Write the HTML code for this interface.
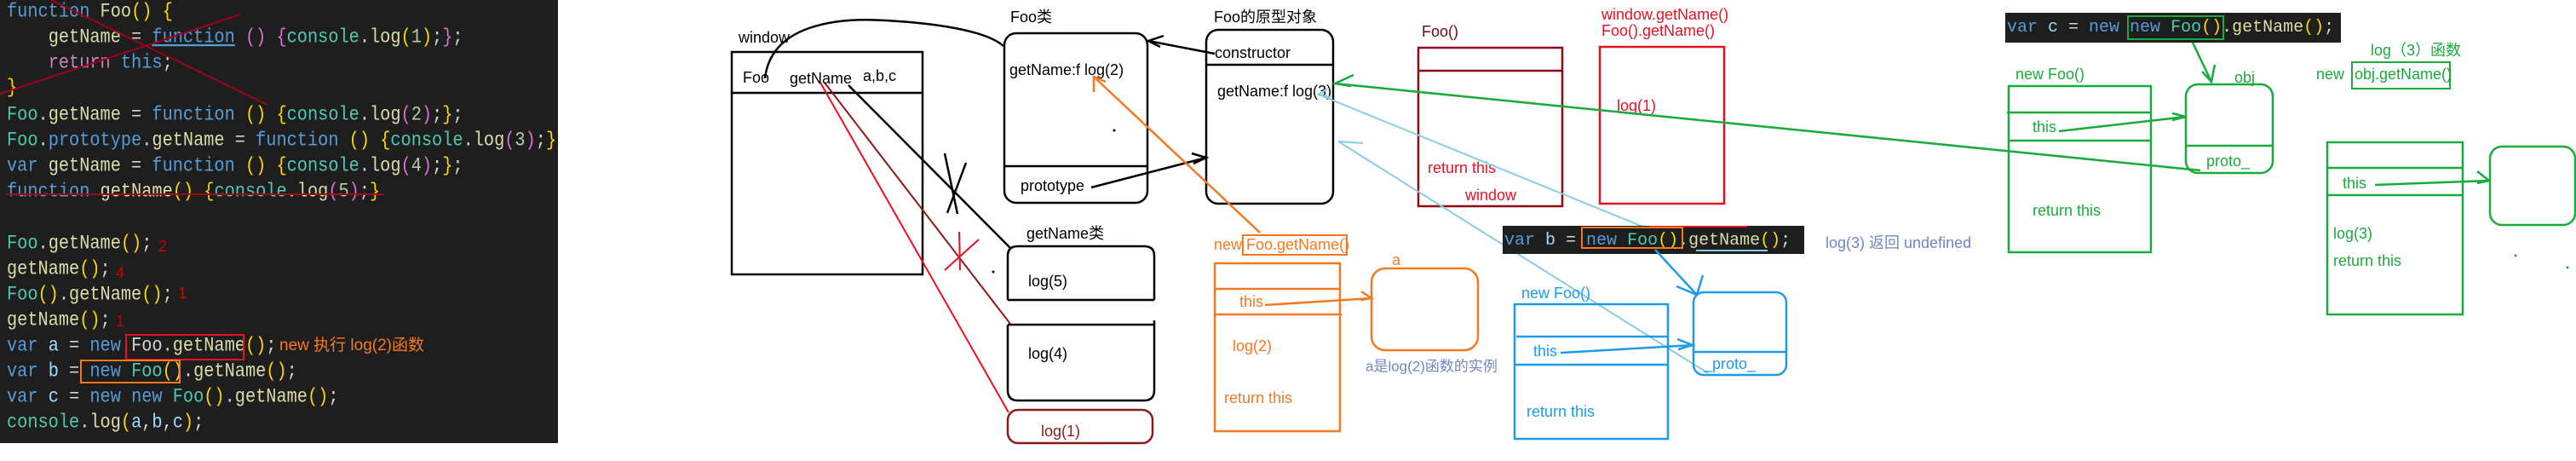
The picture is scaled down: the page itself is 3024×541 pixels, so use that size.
<!DOCTYPE html>
<html><head><meta charset="utf-8">
<style>
html,body{margin:0;padding:0;background:#fff;}
body{width:3024px;height:541px;position:relative;overflow:hidden;}
#code{position:absolute;left:0;top:0;width:655px;height:520px;background:#1e1e1e;overflow:hidden;}
.ln{position:absolute;left:8px;font-family:"Liberation Mono",monospace;font-size:20.3px;white-space:pre;line-height:30px;color:#d4d4d4;transform:scaleY(1.15);transform-origin:0 50%;}
.k{color:#569cd6}.t{color:#4ec9b0}.f{color:#dcdcaa}.y{color:#ffd700}.p{color:#da70d6}.n{color:#b5cea8}.r{color:#c586c0}.v{color:#9cdcfe}.w{color:#d4d4d4}
svg{position:absolute;left:0;top:0;}
svg text{font-family:"Liberation Sans","Noto Sans CJK SC",sans-serif;font-size:18px;dominant-baseline:middle;}
</style></head><body>
<div id="code">
<div class="ln" style="top:0px"><span class="k">function</span> <span class="f">Foo</span><span class="y">()</span> <span class="y">{</span></div>
<div class="ln" style="top:30px">    <span class="f">getName</span> = <span class="k" style="text-decoration:underline">function</span> <span class="p">()</span> <span class="p">{</span><span class="t">console</span>.<span class="f">log</span><span class="y">(</span><span class="n">1</span><span class="y">)</span>;<span class="p">}</span>;</div>
<div class="ln" style="top:60px">    <span class="r">return</span> <span class="k">this</span>;</div>
<div class="ln" style="top:89px"><span class="y">}</span></div>
<div class="ln" style="top:121px"><span class="t">Foo</span>.<span class="f">getName</span> = <span class="k">function</span> <span class="y">()</span> <span class="y">{</span><span class="t">console</span>.<span class="f">log</span><span class="p">(</span><span class="n">2</span><span class="p">)</span>;<span class="y">}</span>;</div>
<div class="ln" style="top:151px"><span class="t">Foo</span>.<span class="k">prototype</span>.<span class="f">getName</span> = <span class="k">function</span> <span class="y">()</span> <span class="y">{</span><span class="t">console</span>.<span class="f">log</span><span class="p">(</span><span class="n">3</span><span class="p">)</span>;<span class="y">}</span>;</div>
<div class="ln" style="top:181px"><span class="k">var</span> <span class="f">getName</span> = <span class="k">function</span> <span class="y">()</span> <span class="y">{</span><span class="t">console</span>.<span class="f">log</span><span class="p">(</span><span class="n">4</span><span class="p">)</span>;<span class="y">}</span>;</div>
<div class="ln" style="top:211px"><span class="k">function</span> <span class="f">getName</span><span class="y">()</span> <span class="y">{</span><span class="t">console</span>.<span class="f">log</span><span class="p">(</span><span class="n">5</span><span class="p">)</span>;<span class="y">}</span></div>
<div class="ln" style="top:272px"><span class="t">Foo</span>.<span class="f">getName</span><span class="y">()</span>;</div>
<div class="ln" style="top:302px"><span class="f">getName</span><span class="y">()</span>;</div>
<div class="ln" style="top:332px"><span class="t">Foo</span><span class="y">()</span>.<span class="f">getName</span><span class="y">()</span>;</div>
<div class="ln" style="top:362px"><span class="f">getName</span><span class="y">()</span>;</div>
<div class="ln" style="top:392px"><span class="k">var</span> <span class="v">a</span> = <span class="k">new</span> <span class="w">Foo</span>.<span class="f">getName</span><span class="y">()</span>;</div>
<div class="ln" style="top:422px"><span class="k">var</span> <span class="v">b</span> = <span class="k">new</span> <span class="t">Foo</span><span class="y">()</span>.<span class="f">getName</span><span class="y">()</span>;</div>
<div class="ln" style="top:452px"><span class="k">var</span> <span class="v">c</span> = <span class="k">new</span> <span class="k">new</span> <span class="t">Foo</span><span class="y">()</span>.<span class="f">getName</span><span class="y">()</span>;</div>
<div class="ln" style="top:482px"><span class="t">console</span>.<span class="f">log</span><span class="y">(</span><span class="v">a</span>,<span class="v">b</span>,<span class="v">c</span><span class="y">)</span>;</div>
</div>

<svg width="3024" height="541" viewBox="0 0 3024 541">
<g stroke="#a0001a" stroke-width="2" fill="none">
<line x1="60" y1="0" x2="314" y2="123"/>
<line x1="0" y1="110" x2="282" y2="17"/>
<line x1="8" y1="228" x2="451" y2="228"/>
</g>
<g fill="#c00" style="font-size:18px">
<text x="186" y="290">2</text><text x="136" y="321">4</text><text x="209" y="345">1</text><text x="136" y="378">1</text>
</g>
<rect x="148" y="393" width="138" height="29" fill="none" stroke="#e81123" stroke-width="2"/>
<rect x="95" y="423" width="116" height="26" fill="none" stroke="#f47920" stroke-width="2"/>
<text x="328" y="406" fill="#f47920" style="font-size:19px">new 执行 log(2)函数</text>

<g stroke="#000" stroke-width="2.5" fill="none">
<rect x="859" y="61" width="224" height="261"/>
<line x1="859" y1="109" x2="1083" y2="109"/>
<path d="M898 92 C905 30 980 20 1040 24 C1110 28 1160 38 1178 54"/>
<rect x="1179" y="39" width="168" height="199" rx="14"/>
<line x1="1179" y1="195" x2="1347" y2="195"/>
<rect x="1416" y="35" width="149" height="204" rx="14"/>
<line x1="1416" y1="76" x2="1565" y2="76"/>
<line x1="1281" y1="220" x2="1416" y2="185"/>
<polyline points="1399,180 1416,185 1401,192"/>
<line x1="1426" y1="63" x2="1348" y2="48"/>
<polyline points="1366,42 1348,48 1362,55"/>
<path d="M1183 352 L1183 300 Q1183 289 1195 289 L1343 289 Q1355 289 1355 300 L1355 352"/>
<line x1="1183" y1="352" x2="1355" y2="352"/>
<path d="M1183 381 L1183 458 Q1183 470 1195 470 L1343 470 Q1355 470 1355 458 L1355 376"/>
<line x1="1183" y1="381" x2="1355" y2="381"/>
<line x1="996" y1="100" x2="1186" y2="291"/>
<line x1="1109" y1="180" x2="1124" y2="251"/>
<line x1="1134" y1="191" x2="1112" y2="250"/>
</g>
<rect x="1183" y="481" width="170" height="39" rx="12" fill="none" stroke="#8b1a1a" stroke-width="2.5"/>
<line x1="968" y1="97" x2="1186" y2="380" stroke="#8b1a1a" stroke-width="2"/>
<line x1="963" y1="97" x2="1184" y2="484" stroke="#e81123" stroke-width="2"/>
<g stroke="#e81123" stroke-width="2"><line x1="1126" y1="272" x2="1127" y2="317"/><line x1="1149" y1="281" x2="1109" y2="317"/></g>
<g fill="#000">
<text x="867" y="45">window</text>
<text x="872" y="92">Foo</text><text x="927" y="93">getName</text><text x="1013" y="90">a,b,c</text>
<text x="1186" y="21">Foo类</text>
<text x="1185" y="83">getName:f log(2)</text>
<text x="1198" y="219">prototype</text>
<text x="1425" y="21">Foo的原型对象</text>
<text x="1426" y="63">constructor</text>
<text x="1429" y="108">getName:f log(3)</text>
<text x="1205" y="275">getName类</text>
<text x="1207" y="331">log(5)</text>
<text x="1207" y="416">log(4)</text>
<text x="1222" y="507" fill="#8b1a1a">log(1)</text>
</g>

<g stroke="#f47920" stroke-width="2.5" fill="none">
<line x1="1479" y1="273" x2="1284" y2="90"/>
<polyline points="1284,108 1284,90 1298,96"/>
<rect x="1459" y="276" width="122" height="23" stroke-width="2"/>
<rect x="1426" y="309" width="147" height="197"/>
<line x1="1426" y1="339" x2="1573" y2="339"/>
<line x1="1426" y1="369" x2="1575" y2="369"/>
<line x1="1485" y1="358" x2="1610" y2="350"/>
<polyline points="1598,342 1610,350 1597,352"/>
<rect x="1610" y="315" width="125" height="96" rx="16"/>
</g>
<g fill="#f47920">
<text x="1425" y="288">new Foo.getName()</text>
<text x="1455" y="355">this</text>
<text x="1447" y="407">log(2)</text>
<text x="1437" y="468">return  this</text>
<text x="1634" y="306">a</text>
</g>
<text x="1603" y="431" fill="#6f86c0" style="font-size:17px">a是log(2)函数的实例</text>

<g stroke="#8b0a14" stroke-width="2.5" fill="none">
<rect x="1665" y="56" width="169" height="186"/>
<line x1="1665" y1="83" x2="1834" y2="83"/>
</g>
<text x="1669" y="38" fill="#6a0a10">Foo()</text>
<text x="1676" y="198" fill="#e81123">return this</text>
<text x="1720" y="230" fill="#e81123">window</text>
<rect x="1878" y="55" width="146" height="184" fill="none" stroke="#e81123" stroke-width="2.5"/>
<text x="1880" y="18" fill="#e81123">window.getName()</text>
<text x="1880" y="37" fill="#e81123">Foo().getName()</text>
<text x="1898" y="125" fill="#e81123">log(1)</text>

<g stroke="#1aab3c" stroke-width="2.5" fill="none">
<line x1="1567" y1="98" x2="2583" y2="200"/>
<polyline points="1589,88 1567,98 1586,101"/>
</g>
<g stroke="#87cde8" stroke-width="2" fill="none">
<line x1="1548" y1="111" x2="1990" y2="291"/>
<polyline points="1558,104 1548,111 1562,114"/>
<line x1="1571" y1="166" x2="2005" y2="438"/>
<line x1="1571" y1="166" x2="1600" y2="168"/>
<line x1="2005" y1="440" x2="2030" y2="440"/>
</g>

<rect x="1764" y="265" width="354" height="33" fill="#1e1e1e"/>
<line x1="1936" y1="266" x2="2051" y2="266" stroke="#e81123" stroke-width="2"/>
<text x="1766" y="282" style="font-family:'Liberation Mono',monospace;font-size:20px;dominant-baseline:middle" xml:space="preserve"><tspan fill="#569cd6">var</tspan><tspan fill="#9cdcfe"> b</tspan><tspan fill="#d4d4d4"> = </tspan><tspan fill="#569cd6">new</tspan> <tspan fill="#4ec9b0">Foo</tspan><tspan fill="#ffd700">()</tspan><tspan fill="#d4d4d4">.</tspan><tspan fill="#dcdcaa">getName</tspan><tspan fill="#ffd700">()</tspan><tspan fill="#d4d4d4">;</tspan></text>
<rect x="1857" y="267" width="118" height="24" fill="none" stroke="#f47920" stroke-width="2"/>
<line x1="1991" y1="294" x2="2075" y2="294" stroke="#87cde8" stroke-width="2"/>
<text x="2143" y="286" fill="#6f86c0">log(3)  返回 undefined</text>

<g stroke="#1e9be8" stroke-width="2.5" fill="none">
<line x1="1943" y1="293" x2="1992" y2="346"/>
<polyline points="1968,336 1992,346 1999,323"/>
<rect x="1778" y="357" width="180" height="158"/>
<line x1="1780" y1="395" x2="1958" y2="395"/>
<line x1="1778" y1="428" x2="1958" y2="428"/>
<line x1="1832" y1="414" x2="1987" y2="405"/>
<polyline points="1969,398 1987,405 1970,410"/>
<rect x="1988" y="343" width="109" height="97" rx="12"/>
<line x1="1988" y1="413" x2="2097" y2="413"/>
</g>
<g fill="#1e9be8">
<text x="1786" y="345">new Foo()</text>
<text x="1800" y="413">this</text>
<text x="1792" y="484">return  this</text>
<text x="2000" y="428">_proto_</text>
</g>

<rect x="2354" y="15" width="394" height="35" fill="#1e1e1e"/>
<text x="2356" y="32" style="font-family:'Liberation Mono',monospace;font-size:20px;dominant-baseline:middle" xml:space="preserve"><tspan fill="#569cd6">var</tspan><tspan fill="#9cdcfe"> c</tspan><tspan fill="#d4d4d4"> = </tspan><tspan fill="#569cd6">new new</tspan> <tspan fill="#4ec9b0">Foo</tspan><tspan fill="#ffd700">()</tspan><tspan fill="#d4d4d4">.</tspan><tspan fill="#dcdcaa">getName</tspan><tspan fill="#ffd700">()</tspan><tspan fill="#d4d4d4">;</tspan></text>
<g stroke="#1aab3c" stroke-width="2.5" fill="none">
<rect x="2498" y="19" width="112" height="27" stroke-width="2"/>
<line x1="2574" y1="50" x2="2596" y2="96"/>
<polyline points="2600,76 2596,96 2585,84"/>
<rect x="2358" y="101" width="167" height="195"/>
<line x1="2356" y1="132" x2="2525" y2="132"/>
<line x1="2358" y1="165" x2="2526" y2="165"/>
<line x1="2417" y1="154" x2="2566" y2="137"/>
<polyline points="2550,133 2566,137 2550,141"/>
<rect x="2566" y="99" width="102" height="104" rx="14"/>
<line x1="2566" y1="171" x2="2668" y2="171"/>
<rect x="2761" y="73" width="115" height="31" stroke-width="2"/>
<rect x="2732" y="167" width="159" height="202"/>
<line x1="2732" y1="197" x2="2891" y2="197"/>
<line x1="2732" y1="229" x2="2892" y2="229"/>
<line x1="2788" y1="217" x2="2922" y2="212"/>
<polyline points="2908,201 2922,212 2908,215"/>
<rect x="2923" y="172" width="100" height="92" rx="14"/>
</g>
<g fill="#1aab3c">
<text x="2366" y="88">new Foo()</text>
<text x="2386" y="150">this</text>
<text x="2386" y="248">return this</text>
<text x="2623" y="92">obj</text>
<text x="2590" y="190">proto_</text>
<text x="2783" y="60">log（3）函数</text>
<text x="2719" y="88">new</text>
<text x="2764" y="88">obj.getName()</text>
<text x="2750" y="216">this</text>
<text x="2739" y="275">log(3)</text>
<text x="2739" y="307">return  this</text>
</g>
<g fill="#000"><circle cx="1308" cy="153" r="1.5"/><circle cx="1166" cy="319" r="1.5"/></g>
<circle cx="2953" cy="300" r="1.5" fill="#1aab3c"/><circle cx="3014" cy="314" r="1.5" fill="#1aab3c"/>
</svg>
</body></html>
